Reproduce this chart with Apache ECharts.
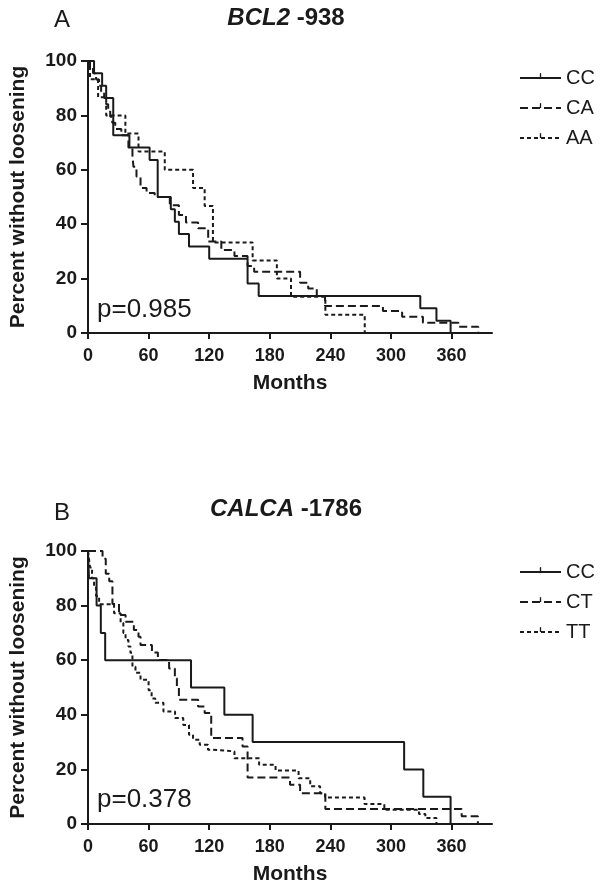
<!DOCTYPE html>
<html>
<head>
<meta charset="utf-8">
<script src="https://cdn.jsdelivr.net/npm/echarts@6/dist/echarts.min.js"></script>
<style>
  html, body { margin: 0; padding: 0; background: #fff; }
  #chart { width: 600px; height: 887px; }
</style>
</head>
<body>
<div id="chart"></div>
<script>
// tick marks on the months axis
const monthTicks = [0, 60, 120, 180, 240, 300, 360];

// panel A, BCL2 -938 : [months, percent without loosening]
const bcl2CC = [[0,100],[6,95.5],[14,90.9],[18,86.4],[25,72.7],[41,68.2],[61,63.6],[69,50],[82,45.5],[86,40.9],[90,36.4],[100,31.8],[120,27.3],[158,18.2],[169,13.6],[329,9.1],[345,4.5],[359,0]];
const bcl2CA = [[0,100],[2,97.7],[5,95.5],[8,93.2],[11,90.9],[13,88.6],[16,86.4],[18,84.1],[20,81.8],[22,79.5],[24,77.3],[27,75],[33,72.7],[40,68.2],[44,65.4],[45,61.1],[48,57.5],[52,53.3],[58,51.5],[66,50],[81,47],[90,43.4],[97,40.6],[109,38.5],[119,33.6],[132,30.5],[145,28.3],[158,24.6],[164.5,22.5],[210,18.5],[218,16.4],[226.5,13.6],[234.7,9.9],[292,8.1],[311,6],[331.6,3.8],[366.8,2.3],[386.4,0]];
const bcl2AA = [[0,100],[2,93.3],[10,86.7],[18,80],[37,73.3],[50,66.7],[76,60],[104,53.3],[115.5,46.7],[123.7,33.3],[163,26.7],[187,20],[201,13.3],[235,6.7],[274,0]];

// panel B, CALCA -1786
const calcaCC = [[0,100],[1,90],[8.5,80],[12.7,70],[17,60],[102,50],[135,40],[163,30],[313,20],[332,10],[359,0]];
const calcaCT = [[0,100],[14.4,97.2],[17.6,91.7],[21,88.9],[24.2,80.6],[30.7,76.6],[37.2,74.1],[45.4,71.1],[50,68.6],[52,65.6],[63.3,62.8],[69.2,60.1],[80.3,57],[86,53.4],[88,50],[90,45.5],[109,43],[115.5,40.7],[122,31.5],[153,28.4],[158,17],[200,14.4],[210,11.3],[235,5.5],[370,2.8],[386,0]];
const calcaTT = [[0,100],[1,97],[2,94],[4,90],[6,86.5],[8,83.5],[11,80.5],[25.8,77.2],[32.3,73.6],[35,70],[37.2,67.4],[40,65],[42,62.7],[44,57.6],[47,55.4],[52,52.8],[60,49],[63,46],[66.6,44.4],[74.7,41.2],[86.2,38.8],[94.3,36.3],[100,32.7],[104,30.9],[110.6,29],[118.8,27.2],[123.7,26.6],[145,24.1],[169.4,21.7],[185.7,19.6],[208.5,16.8],[220,13.8],[229.8,11.3],[234.7,9.7],[273.8,7.3],[293.4,5.2],[327.7,3.7],[334,2.2],[345,0]];

const ink = "#1a1a1a";
const font = "Liberation Sans, Arial, sans-serif";
// small upright tick used as the censor mark in the legend
const censorTick = "path://M0,0L0,0M10,10L10,10M4.3,0L5.7,0L5.7,5L4.3,5Z";

const chart = echarts.init(document.getElementById("chart"));

function monthsAxis(gridIndex) {
  return {
    type: "value", gridIndex: gridIndex, min: 0, max: 400,
    name: "Months", nameLocation: "middle", nameGap: 40,
    nameTextStyle: { color: ink, fontFamily: font, fontWeight: "bold", fontSize: 21 },
    axisLine: { lineStyle: { color: ink, width: 2 } },
    axisTick: { length: 6, customValues: monthTicks, lineStyle: { color: ink, width: 2 } },
    axisLabel: { customValues: monthTicks, margin: 14, color: ink, fontFamily: font, fontWeight: "bold", fontSize: 18 },
    splitLine: { show: false }
  };
}

function percentAxis(gridIndex) {
  return {
    type: "value", gridIndex: gridIndex, min: 0, max: 100, interval: 20,
    name: "Percent without loosening", nameLocation: "middle", nameGap: 59,
    nameTextStyle: { color: ink, fontFamily: font, fontWeight: "bold", fontSize: 21 },
    axisLine: { show: true, lineStyle: { color: ink, width: 2 } },
    axisTick: { show: true, length: 7, lineStyle: { color: ink, width: 2 } },
    axisLabel: { margin: 11, color: ink, fontFamily: font, fontWeight: "bold", fontSize: 19 },
    splitLine: { show: false }
  };
}

function kmSeries(name, data, idx, dash) {
  return {
    name: name, type: "line", step: "end", data: data,
    xAxisIndex: idx, yAxisIndex: idx,
    symbol: censorTick, symbolSize: 10, showSymbol: false,
    itemStyle: { color: ink },
    lineStyle: { color: ink, width: 2, type: dash },
    emphasis: { disabled: true }
  };
}

function legendFor(names, top) {
  return {
    data: names, orient: "vertical", left: 519, top: top,
    itemWidth: 41, itemHeight: 12, itemGap: 10, padding: 0,
    selectedMode: false,
    textStyle: { color: ink, fontFamily: font, fontSize: 20 }
  };
}

function label(text, x, y, size, weight, align, rich) {
  return {
    type: "text", x: x, y: y,
    style: {
      text: text, fill: ink, fontFamily: font, fontSize: size, fontWeight: weight,
      align: align, verticalAlign: "middle", rich: rich
    }
  };
}

const titleRich = {
  i: { fontFamily: font, fontSize: 24, fontWeight: "bold", fontStyle: "italic", fill: ink },
  b: { fontFamily: font, fontSize: 24, fontWeight: "bold", fill: ink }
};

const option = {
  animation: false,
  backgroundColor: "#fff",
  grid: [
    { left: 82, top: 61, width: 410, height: 272 },
    { left: 82, top: 551, width: 410, height: 273 }
  ],
  xAxis: [monthsAxis(0), monthsAxis(1)],
  yAxis: [percentAxis(0), percentAxis(1)],
  legend: [
    legendFor(["CC", "CA", "AA"], 68),
    legendFor(["CC", "CT", "TT"], 562)
  ],
  graphic: [
    label("A", 62, 20, 24, "normal", "center"),
    label("{i|BCL2} {b|-938}", 286, 18, 24, "bold", "center", titleRich),
    label("p=0.985", 97, 310, 26, "normal", "left"),
    label("B", 62, 513, 24, "normal", "center"),
    label("{i|CALCA} {b|-1786}", 286, 509, 24, "bold", "center", titleRich),
    label("p=0.378", 97, 800, 26, "normal", "left")
  ],
  series: [
    kmSeries("CC", bcl2CC, 0, "solid"),
    kmSeries("CA", bcl2CA, 0, [8, 4]),
    kmSeries("AA", bcl2AA, 0, [4, 3]),
    kmSeries("CC", calcaCC, 1, "solid"),
    kmSeries("CT", calcaCT, 1, [8, 4]),
    kmSeries("TT", calcaTT, 1, [4, 3])
  ]
};

chart.setOption(option);
</script>
</body>
</html>
